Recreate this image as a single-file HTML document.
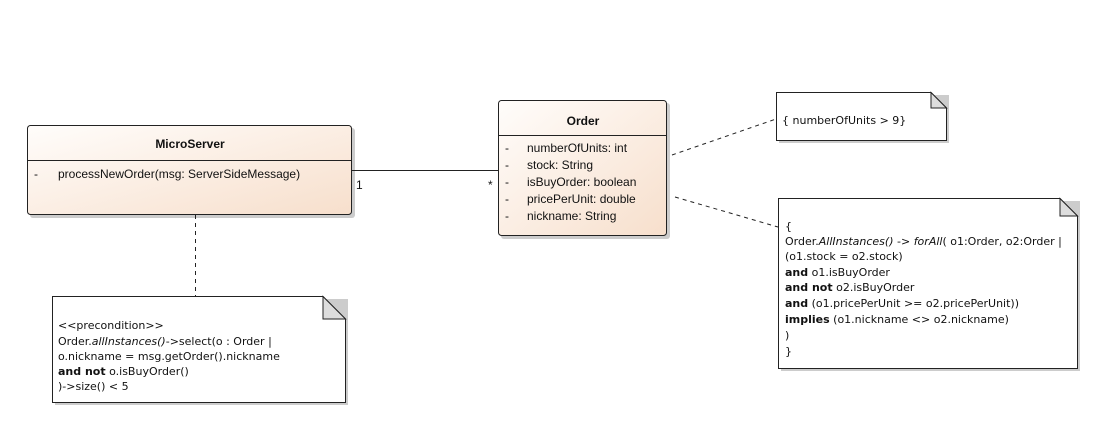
<!DOCTYPE html>
<html><head><style>
html,body{margin:0;padding:0;background:#fff;}
svg{display:block;}
text{font-family:"Liberation Sans",Arial,sans-serif;font-size:12px;fill:#111;}
.n{font-family:"DejaVu Sans","Liberation Sans",sans-serif;font-size:11px;}
</style></head><body>
<svg width="1101" height="436" viewBox="0 0 1101 436" xmlns="http://www.w3.org/2000/svg">
<defs>
<linearGradient id="g" x1="0" y1="0" x2="1" y2="1">
<stop offset="0" stop-color="#fffdfb"/><stop offset="1" stop-color="#f7dfcc"/>
</linearGradient>
</defs>
<!-- shadows -->
<rect x="30" y="128" width="325" height="90" rx="3" fill="#ccc"/>
<rect x="501" y="103" width="169" height="136" rx="3" fill="#ccc"/>
<!-- MicroServer -->
<rect x="27.5" y="125.5" width="324" height="89" rx="3" fill="url(#g)" stroke="#222"/>
<line x1="28" y1="160.5" x2="351" y2="160.5" stroke="#222"/>
<text x="190" y="148" text-anchor="middle" font-weight="bold">MicroServer</text>
<text x="34" y="178">-</text>
<text x="58" y="178">processNewOrder(msg: ServerSideMessage)</text>
<!-- Order -->
<rect x="498.5" y="100.5" width="168" height="135" rx="3" fill="url(#g)" stroke="#222"/>
<line x1="499" y1="135.5" x2="666" y2="135.5" stroke="#222"/>
<text x="583" y="125" text-anchor="middle" font-weight="bold">Order</text>
<g>
<text x="505" y="152">-</text><text x="527" y="152">numberOfUnits: int</text>
<text x="505" y="169">-</text><text x="527" y="169">stock: String</text>
<text x="505" y="186">-</text><text x="527" y="186">isBuyOrder: boolean</text>
<text x="505" y="203">-</text><text x="527" y="203">pricePerUnit: double</text>
<text x="505" y="220">-</text><text x="527" y="220">nickname: String</text>
</g>
<!-- association -->
<line x1="352" y1="170.5" x2="498" y2="170.5" stroke="#222"/>
<text x="356" y="189">1</text>
<text x="488" y="189">*</text>
<!-- dashed connectors -->
<line x1="195.5" y1="215" x2="195.5" y2="296" stroke="#222" stroke-dasharray="4,4"/>
<line x1="672" y1="155" x2="776" y2="119" stroke="#222" stroke-dasharray="4,4"/>
<line x1="675" y1="197" x2="778" y2="227" stroke="#222" stroke-dasharray="4,4"/>
<!-- note 1 -->
<path d="M55 299 H348 V405 H55 Z" fill="#ccc"/>
<path d="M52.5 296.5 H323 L345.5 319 V402.5 H52.5 Z" fill="#fff" stroke="#222"/>
<path d="M323 296.5 V319 H345.5 Z" fill="#ddd" stroke="#222"/>
<g class="n">
<text class="n" x="58" y="329">&lt;&lt;precondition&gt;&gt;</text>
<text class="n" x="58" y="345">Order.<tspan font-style="italic">allInstances()</tspan>-&gt;select(o : Order |</text>
<text class="n" x="58" y="360">o.nickname = msg.getOrder().nickname</text>
<text class="n" x="58" y="375"><tspan font-weight="bold">and not</tspan> o.isBuyOrder()</text>
<text class="n" x="58" y="390">)-&gt;size() &lt; 5</text>
</g>
<!-- note 2 -->
<path d="M779 95 H949 V143 H779 Z" fill="#ccc"/>
<path d="M776.5 92.5 H931 L946.5 108 V140.5 H776.5 Z" fill="#fff" stroke="#222"/>
<path d="M931 92.5 V108 H946.5 Z" fill="#ddd" stroke="#222"/>
<text class="n" x="782" y="124">{ numberOfUnits &gt; 9}</text>
<!-- note 3 -->
<path d="M781 201 H1080 V371 H781 Z" fill="#ccc"/>
<path d="M778.5 198.5 H1060 L1077.5 216 V368.5 H778.5 Z" fill="#fff" stroke="#222"/>
<path d="M1060 198.5 V216 H1077.5 Z" fill="#ddd" stroke="#222"/>
<text class="n" x="785" y="230">{</text>
<text class="n" x="785" y="245">Order.<tspan font-style="italic">AllInstances()</tspan> -&gt; <tspan font-style="italic">forAll</tspan>( o1:Order, o2:Order |</text>
<text class="n" x="785" y="260">(o1.stock = o2.stock)</text>
<text class="n" x="785" y="276"><tspan font-weight="bold">and</tspan> o1.isBuyOrder</text>
<text class="n" x="785" y="291"><tspan font-weight="bold">and not</tspan> o2.isBuyOrder</text>
<text class="n" x="785" y="307"><tspan font-weight="bold">and</tspan> (o1.pricePerUnit &gt;= o2.pricePerUnit))</text>
<text class="n" x="785" y="323"><tspan font-weight="bold">implies</tspan> (o1.nickname &lt;&gt; o2.nickname)</text>
<text class="n" x="785" y="339">)</text>
<text class="n" x="785" y="355">}</text>
</svg>
</body></html>
